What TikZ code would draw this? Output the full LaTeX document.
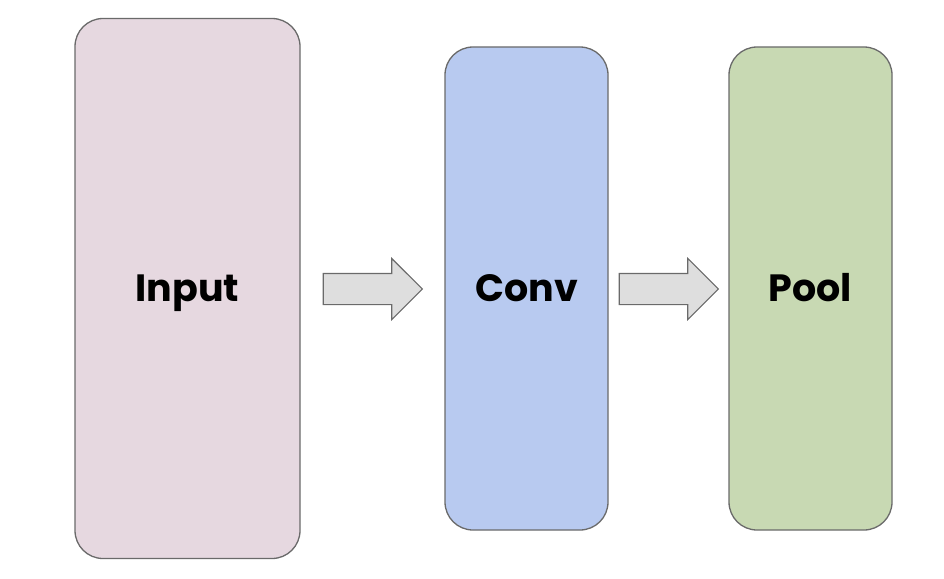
\documentclass[tikz,border=0pt]{standalone}
\usepackage{fontspec}
\setmainfont{Poppins}
\usetikzlibrary{shapes.arrows}
\definecolor{inputfill}{HTML}{E6D8E0}
\definecolor{convfill}{HTML}{B8CAF0}
\definecolor{poolfill}{HTML}{C8D9B3}
\definecolor{edgegray}{HTML}{6A6A6A}
\definecolor{arrowfill}{HTML}{DEDEDE}
\tikzset{%
  layer/.style    = {shape=rectangle, rounded corners=28pt,%
                     draw=edgegray, line width=1.3pt, inner sep=0pt,%
                     text height=26.5pt, text depth=0pt,%
                     font=\fontsize{38}{44}\selectfont\bfseries},%
  inlayer/.style  = {layer, fill=inputfill,%
                     minimum width=225pt, minimum height=540pt},%
  convlayer/.style= {layer, fill=convfill,%
                     minimum width=163pt, minimum height=483pt},%
  poollayer/.style= {layer, fill=poolfill,%
                     minimum width=163pt, minimum height=483pt},%
  flow/.style     = {single arrow, draw=edgegray, fill=arrowfill,%
                     line width=1.1pt, inner xsep=0pt, inner ysep=15pt,%
                     minimum height=99pt,%
                     single arrow head extend=15pt}%
}
\begin{document}
\begin{tikzpicture}[x=1pt,y=-1pt]
	\useasboundingbox (0,0) rectangle (944,578);
	\node (inp)  at (187.5,288.5) [inlayer]   {Input};
	\node (conv) at (526.5,288.5) [convlayer] {Conv};
	\node (pool) at (810.5,288.5) [poollayer] {Pool};
	% block arrows between the layers
	\node (a1) at (365,289) [flow] {};
	\node (a2) at (661,289) [flow] {};
\end{tikzpicture}
\end{document}
